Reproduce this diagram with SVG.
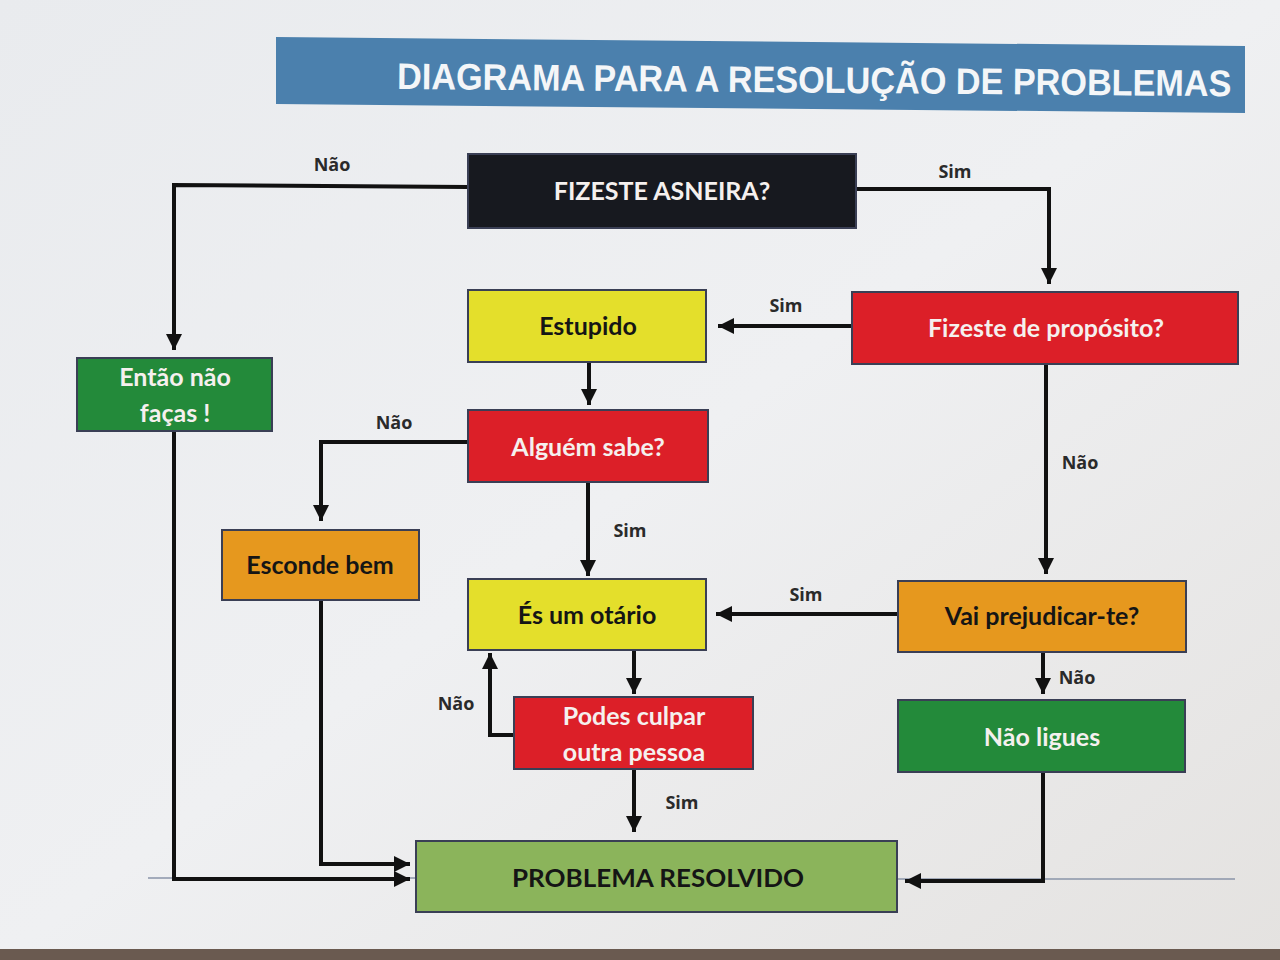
<svg xmlns="http://www.w3.org/2000/svg" width="1280" height="960" viewBox="0 0 1280 960">
<defs>
<linearGradient id="bg" x1="0" y1="0" x2="1" y2="1">
<stop offset="0" stop-color="#e9ebee"/>
<stop offset="0.5" stop-color="#eff0f2"/>
<stop offset="1" stop-color="#e4e2e0"/>
</linearGradient>
<marker id="ah" markerUnits="userSpaceOnUse" markerWidth="18" markerHeight="16" refX="16" refY="8" orient="auto">
<path d="M0,0 L16,8 L0,16 Z" fill="#111"/>
</marker>
</defs>
<style>
.box{stroke:#3a3f55;stroke-width:2}
.t{font-family:Lato,"Open Sans","Liberation Sans",sans-serif;font-weight:bold;font-size:25px;text-anchor:middle}
.w{fill:#f5f0ee}
.k{fill:#151515}
.lbl{font-family:"Open Sans","Liberation Sans",sans-serif;font-weight:bold;font-size:18px;fill:#2a2a2a;text-anchor:middle}
.c{fill:none;stroke:#111;stroke-width:4}
</style>
<rect width="1280" height="960" fill="url(#bg)"/>
<rect x="0" y="949" width="1280" height="11" fill="#6a5a50"/>
<g id="title">
<polygon points="276,37 1245,46 1245,113 276,104" fill="#4b80ad"/>
<text x="0" y="0" font-family="'Liberation Sans',Arial,sans-serif" font-weight="bold" font-size="37" fill="#f4f6f8" transform="translate(397 89) rotate(0.5) scale(0.925 1)">DIAGRAMA PARA A RESOLUÇÃO DE PROBLEMAS</text>
</g>
<g id="paperline" stroke="#8a95a8" stroke-width="1.5">
<line x1="148" y1="878" x2="415" y2="878"/>
<line x1="898" y1="879" x2="1235" y2="879"/>
</g>
<g id="connectors">
<path class="c" d="M468,187 L174,185 L174,350" marker-end="url(#ah)"/>
<path class="c" d="M856,189 L1049,189 L1049,284" marker-end="url(#ah)"/>
<path class="c" d="M852,326 L718,326" marker-end="url(#ah)"/>
<path class="c" d="M1046,364 L1046,574" marker-end="url(#ah)"/>
<path class="c" d="M589,362 L589,405" marker-end="url(#ah)"/>
<path class="c" d="M468,442 L321,442 L321,521" marker-end="url(#ah)"/>
<path class="c" d="M588,482 L588,576" marker-end="url(#ah)"/>
<path class="c" d="M898,614 L716,614" marker-end="url(#ah)"/>
<path class="c" d="M1043,652 L1043,694" marker-end="url(#ah)"/>
<path class="c" d="M634,650 L634,694" marker-end="url(#ah)"/>
<path class="c" d="M514,735 L490,735 L490,653" marker-end="url(#ah)"/>
<path class="c" d="M634,769 L634,832" marker-end="url(#ah)"/>
<path class="c" d="M174,431 L174,879 L410,879" marker-end="url(#ah)"/>
<path class="c" d="M321,600 L321,864 L410,864" marker-end="url(#ah)"/>
<path class="c" d="M1043,772 L1043,881 L905,881" marker-end="url(#ah)"/>
<text class="lbl" x="332" y="171">Não</text>
<text class="lbl" x="955" y="178">Sim</text>
<text class="lbl" x="786" y="312">Sim</text>
<text class="lbl" x="1080" y="469">Não</text>
<text class="lbl" x="394" y="429">Não</text>
<text class="lbl" x="630" y="537">Sim</text>
<text class="lbl" x="806" y="601">Sim</text>
<text class="lbl" x="1077" y="684">Não</text>
<text class="lbl" x="456" y="710">Não</text>
<text class="lbl" x="682" y="809">Sim</text>
</g>
<g id="n-fizeste">
<rect class="box" x="468" y="154" width="388" height="74" fill="#17191f"/>
<text class="t w" x="662" y="200" font-size="24">FIZESTE ASNEIRA?</text>
</g>
<g id="n-estupido">
<rect class="box" x="468" y="290" width="238" height="72" fill="#e4df2b"/>
<text class="t k" x="588" y="335">Estupido</text>
</g>
<g id="n-proposito">
<rect class="box" x="852" y="292" width="386" height="72" fill="#dc1f28"/>
<text class="t w" x="1046" y="337">Fizeste de propósito?</text>
</g>
<g id="n-entao">
<rect class="box" x="77" y="358" width="195" height="73" fill="#238a3a"/>
<text class="t w" x="175" y="386">Então não</text>
<text class="t w" x="175" y="422">faças !</text>
</g>
<g id="n-alguem">
<rect class="box" x="468" y="410" width="240" height="72" fill="#dc1f28"/>
<text class="t w" x="588" y="456">Alguém sabe?</text>
</g>
<g id="n-esconde">
<rect class="box" x="222" y="530" width="197" height="70" fill="#e6981e"/>
<text class="t k" x="320" y="574">Esconde bem</text>
</g>
<g id="n-otario">
<rect class="box" x="468" y="579" width="238" height="71" fill="#e4df2b"/>
<text class="t k" x="587" y="624">És um otário</text>
</g>
<g id="n-prejudicar">
<rect class="box" x="898" y="581" width="288" height="71" fill="#e6981e"/>
<text class="t k" x="1042" y="625">Vai prejudicar-te?</text>
</g>
<g id="n-culpar">
<rect class="box" x="514" y="697" width="239" height="72" fill="#dc1f28"/>
<text class="t w" x="634" y="725">Podes culpar</text>
<text class="t w" x="634" y="761">outra pessoa</text>
</g>
<g id="n-naoligues">
<rect class="box" x="898" y="700" width="287" height="72" fill="#238a3a"/>
<text class="t w" x="1042" y="746">Não ligues</text>
</g>
<g id="n-resolvido">
<rect class="box" x="416" y="841" width="481" height="71" fill="#8bb45b"/>
<text class="t k" x="658" y="887" font-size="24" textLength="292" lengthAdjust="spacingAndGlyphs">PROBLEMA RESOLVIDO</text>
</g>
</svg>
